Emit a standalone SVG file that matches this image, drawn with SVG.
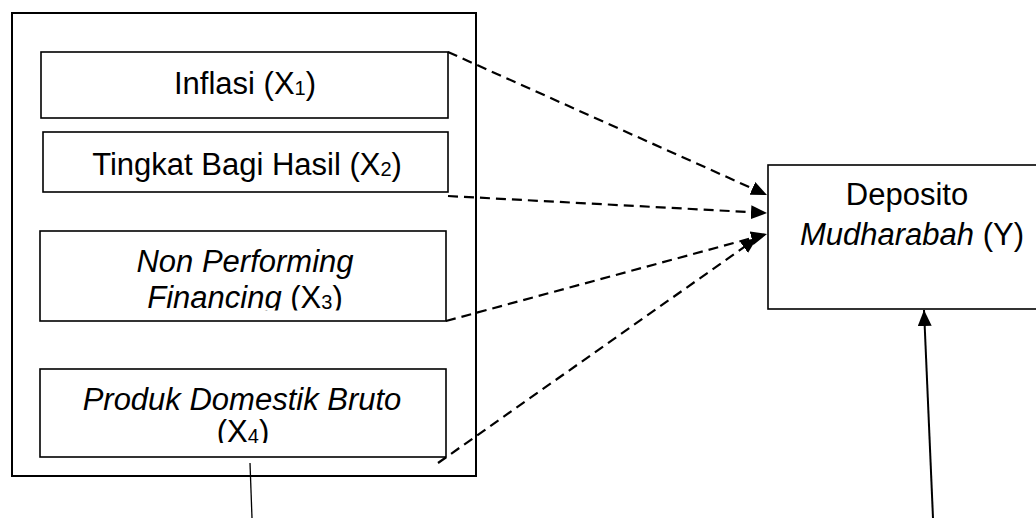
<svg xmlns="http://www.w3.org/2000/svg" width="1036" height="518" viewBox="0 0 1036 518">
<style>
.box{fill:#fff;stroke:#000;stroke-width:1.6}
.outer{fill:none;stroke:#000;stroke-width:2}
.t{font-family:"Liberation Sans",Arial,sans-serif;font-size:31px;fill:#000;text-anchor:middle}
.i{font-style:italic}
.sub{font-size:20px}
.dash{stroke:#000;stroke-width:2.2;stroke-dasharray:10 6;fill:none}
.solid{stroke:#000;stroke-width:2;fill:none}
</style>
<defs>
<marker id="ah" viewBox="0 0 16 14" refX="16" refY="7" markerWidth="16" markerHeight="14" markerUnits="userSpaceOnUse" orient="auto">
<path d="M0,0 L16,7 L0,14 z" fill="#000"/>
</marker>
<clipPath id="c3"><rect x="40" y="231" width="406" height="79.5"/></clipPath>
<clipPath id="c4"><rect x="40" y="369" width="406" height="74"/></clipPath>
</defs>
<g id="group-x">
<rect class="outer" x="12" y="13" width="464" height="463"/>
</g>
<g id="x1">
<rect class="box" x="41" y="52" width="407" height="66"/>
<text class="t" x="245" y="94">Inflasi (X<tspan class="sub" dy="1">1</tspan><tspan dy="-1">)</tspan></text>
</g>
<g id="x2">
<rect class="box" x="43" y="132" width="405" height="60"/>
<text class="t" x="247" y="175">Tingkat Bagi Hasil (X<tspan class="sub" dy="1">2</tspan><tspan dy="-1">)</tspan></text>
</g>
<g id="x3">
<rect class="box" x="40" y="231" width="406" height="90"/>
<g clip-path="url(#c3)">
<text class="t i" x="245" y="272">Non Performing</text>
<text class="t" x="245" y="308"><tspan class="i">Financing</tspan> (X<tspan class="sub" dy="1">3</tspan><tspan dy="-1">)</tspan></text>
</g>
</g>
<g id="x4">
<rect class="box" x="40" y="369" width="406" height="88"/>
<g clip-path="url(#c4)">
<text class="t i" x="242" y="410">Produk Domestik Bruto</text>
<text class="t" x="243" y="442">(X<tspan class="sub" dy="1">4</tspan><tspan dy="-1">)</tspan></text>
</g>
</g>
<g id="y">
<rect class="box" x="768" y="165" width="290" height="144"/>
<text class="t" x="907" y="205">Deposito</text>
<text class="t" x="912" y="245"><tspan class="i">Mudharabah</tspan> (Y)</text>
</g>
<g id="connectors">
<line class="dash" x1="448" y1="52" x2="767" y2="195" marker-end="url(#ah)"/>
<line class="dash" x1="448" y1="196" x2="767" y2="213" marker-end="url(#ah)"/>
<line class="dash" x1="446" y1="321" x2="767" y2="234" marker-end="url(#ah)"/>
<line class="dash" x1="438" y1="463" x2="757" y2="238" marker-end="url(#ah)"/>
<line class="solid" x1="933" y1="518" x2="924" y2="310" marker-end="url(#ah)"/>
<line stroke="#000" stroke-width="1.3" x1="250" y1="463" x2="252" y2="518"/>
</g>
</svg>
